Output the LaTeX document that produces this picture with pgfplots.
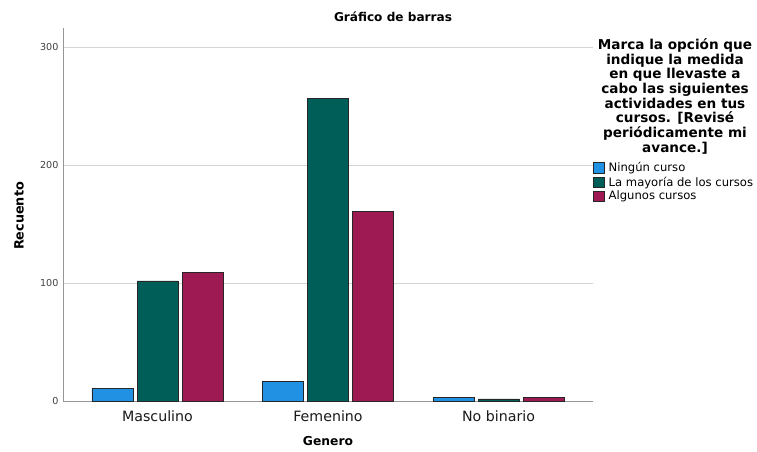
\documentclass[border=0pt]{standalone}
\usepackage{fontspec}
\setmainfont{DejaVu Sans}
\usepackage{pgfplots}
\pgfplotsset{compat=1.18}
\definecolor{cblue}{RGB}{33,145,228}
\definecolor{cteal}{RGB}{0,94,89}
\definecolor{cmag}{RGB}{158,26,82}
\definecolor{gridc}{RGB}{212,212,212}
\definecolor{axc}{RGB}{150,150,150}
\begin{document}
\begin{tikzpicture}[x=1pt,y=1pt]
\path[use as bounding box] (-63,-50.7) rectangle (694,401.3);
\begin{axis}[
  at={(0,0)}, anchor=south west,
  scale only axis, width=530pt, height=373.3pt,
  xmin=-0.554, xmax=2.554, ymin=0, ymax=316.4,
  axis x line*=bottom, axis y line*=left,
  axis line style={draw=axc, line width=0.8pt, -},
  xtick={0,1,2}, xticklabels={Masculino,Femenino,No binario},
  ytick={0,100,200,300},
  major tick length=0pt,
  ymajorgrids, grid style={draw=gridc, line width=0.8pt},
  x tick label style={font=\fontsize{14.2}{16}\selectfont, text=black!90, yshift=-5.5pt},
  y tick label style={font=\fontsize{9.6}{11}\selectfont, text=black!75, xshift=-1pt},
  /pgf/number format/assume math mode=true,
  clip=false,
  legend cell align=left,
  legend style={at={(1.0,0.641)}, anchor=north west, draw=none, fill=none,
    inner sep=0pt, outer sep=0pt, row sep=2.3pt,
    font=\fontsize{11.6}{13}\selectfont,
    nodes={inner sep=0.6pt, anchor=west}},
  legend image code/.code={\draw[#1, draw=black!85, line width=0.6pt] (0pt,-5.3pt) rectangle (10.6pt,5.3pt);
    \path (14.5pt,0pt);},
]
\addplot[ybar, bar width=0.24, bar shift=-0.264, fill=cblue, draw=black!85, line width=0.6pt]
  coordinates {(0,11) (1,17) (2,3)};
\addplot[ybar, bar width=0.24, bar shift=0, fill=cteal, draw=black!85, line width=0.6pt]
  coordinates {(0,102) (1,257) (2,2)};
\addplot[ybar, bar width=0.24, bar shift=0.264, fill=cmag, draw=black!85, line width=0.6pt]
  coordinates {(0,109) (1,161) (2,3)};
\legend{Ningún curso, La mayoría de los cursos, Algunos cursos}
\end{axis}
\node[font=\bfseries\fontsize{12.1}{14}\selectfont] at (330,384.8) {Gráfico de barras};
\node[font=\bfseries\fontsize{12.3}{14}\selectfont] at (265,-39.5) {Genero};
\node[font=\bfseries\fontsize{12.8}{14}\selectfont, rotate=90] at (-44,185.3) {Recuento};
\node[font=\bfseries\fontsize{13.6}{14.7}\selectfont, align=center, anchor=north, inner sep=0pt] at (612,363)
  {Marca la opción que\\indique la medida\\en que llevaste a\\cabo las siguientes\\actividades en tus\\cursos. [Revisé\\periódicamente mi\\avance.]};
\end{tikzpicture}
\end{document}
